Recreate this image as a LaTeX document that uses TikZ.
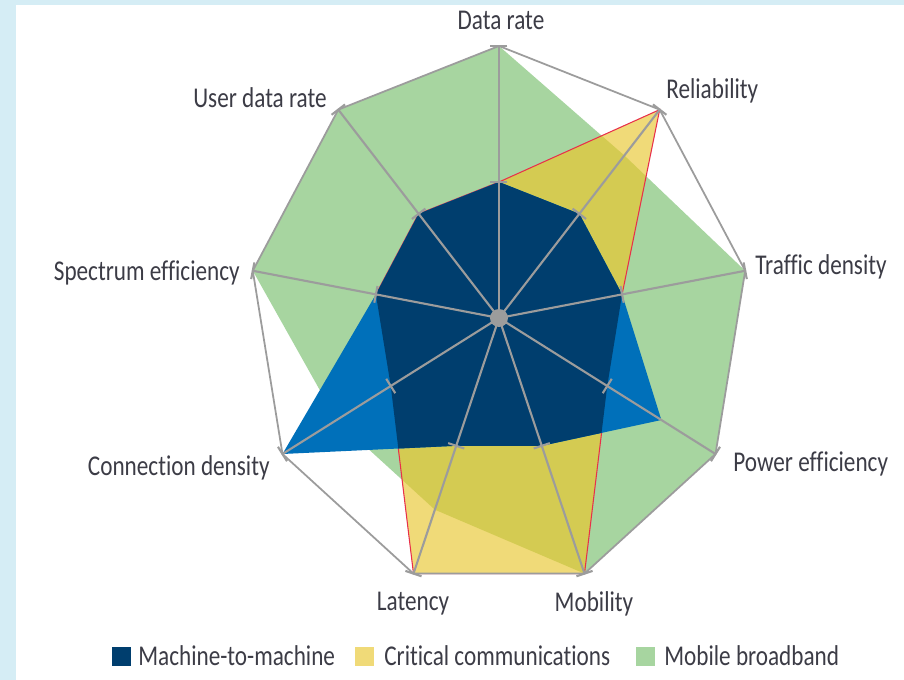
\documentclass[tikz,border=0pt]{standalone}
\usepackage{fontspec}
\setmainfont{Carlito}[FakeStretch=0.81,Ligatures=NoCommon]
\usetikzlibrary{calc}

\definecolor{bgblue}{HTML}{D5EDF5}
\definecolor{mbbgreen}{HTML}{A7D5A0}
\definecolor{crityellow}{HTML}{F0DA78}
\definecolor{overlapolive}{HTML}{D4CB52}
\definecolor{mtmblue}{HTML}{0070BA}
\definecolor{mtmnavy}{HTML}{003E6E}
\definecolor{axisgray}{HTML}{9C9C9C}
\definecolor{edgered}{HTML}{E8304A}
\definecolor{labelgray}{HTML}{3C3C46}

\tikzset{every picture/.style={x=0.02cm,y=0.02cm},
  axis/.style={draw=axisgray,line width=1.2pt},
  rim/.style={draw=axisgray,line width=1pt},
  lbl/.style={inner sep=0pt,text=labelgray,font=\fontsize{16.3}{19}\selectfont},
  keybox/.style={inner sep=0pt,minimum size=0.38cm}}

\begin{document}
\begin{tikzpicture}

          % frame
          \fill[bgblue] (-499,318) rectangle (405,-362);
          \fill[white] (-483,313) rectangle (405,-362);
          \useasboundingbox (-499,318) rectangle (405,-362);

          \coordinate (o) at (0,0);
          \foreach \i in {0,...,8}
            \coordinate (a\i) at ({90-40*\i}:250 and 272);

          % series values
          \foreach \v [count=\i from 0] in {1,0.78,1,1,1,0.75,0.75,1,1}
            \coordinate (g\i) at ($(o)!\v!(a\i)$);
          \foreach \v [count=\i from 0] in {0.5,1,0.5,0.5,1,1,0.5,0.5,0.5}
            \coordinate (c\i) at ($(o)!\v!(a\i)$);
          \foreach \v [count=\i from 0] in {0.5,0.5,0.5,0.75,0.5,0.5,1,0.5,0.5}
            \coordinate (m\i) at ($(o)!\v!(a\i)$);

          % mobile broadband
          \fill[mbbgreen] (g0)--(g1)--(g2)--(g3)--(g4)--(g5)--(g6)--(g7)--(g8)--cycle;
          % critical communications
          \fill[crityellow] (c0)--(c1)--(c2)--(c3)--(c4)--(c5)--(c6)--(c7)--(c8)--cycle;
          \begin{scope}
            \clip (g0)--(g1)--(g2)--(g3)--(g4)--(g5)--(g6)--(g7)--(g8)--cycle;
            \fill[overlapolive] (c0)--(c1)--(c2)--(c3)--(c4)--(c5)--(c6)--(c7)--(c8)--cycle;
          \end{scope}
          \draw[edgered,line width=0.6pt] (c0)--(c1)--(c2)--(c3)--(c4)--(c5)--(c6)--(c7)--(c8)--cycle;
          % machine-to-machine
          \fill[mtmblue] (m0)--(m1)--(m2)--(m3)--(m4)--(m5)--(m6)--(m7)--(m8)--cycle;
          \begin{scope}
            \clip (c0)--(c1)--(c2)--(c3)--(c4)--(c5)--(c6)--(c7)--(c8)--cycle;
            \fill[mtmnavy] (m0)--(m1)--(m2)--(m3)--(m4)--(m5)--(m6)--(m7)--(m8)--cycle;
          \end{scope}

          % axes and rim
          \draw[rim] (a0)--(a1)--(a2)--(a3)--(a4)--(a5)--(a6)--(a7)--(a8)--cycle;
          \foreach \i in {0,...,8} {
            \draw[axis] (o)--(a\i);
            \coordinate (h\i) at ($(o)!0.5!(a\i)$);
            \draw[axis] ($(h\i)!0.17cm!90:(o)$)--($(h\i)!0.17cm!-90:(o)$);
            \draw[axis] ($(a\i)!0.17cm!90:(o)$)--($(a\i)!0.17cm!-90:(o)$);
          }
          \fill[axisgray] (o) circle (0.18cm);

          % labels
          \node[lbl] (l0) at (2,298) {Data rate};
          \node[lbl,anchor=west] (l1) at (167,227) {Reliability};
          \node[lbl,anchor=west] (l2) at (256,51) {Traffic density};
          \node[lbl,anchor=west] (l3) at (234,-146) {Power efficiency};
          \node[lbl] (l4) at (95,-286) {Mobility};
          \node[lbl] (l5) at (-86,-286) {Latency};
          \node[lbl,anchor=east] (l6) at (-229,-150) {Connection density};
          \node[lbl,anchor=east] (l7) at (-259,45) {Spectrum efficiency};
          \node[lbl,anchor=east] (l8) at (-172,220) {User data rate};

          % legend
          \node[keybox,fill=mtmnavy] (k1) at (-377.5,-338) {};
          \node[lbl,anchor=west] (t1) at (-361,-338) {Machine-to-machine};
          \node[keybox,fill=crityellow] (k2) at (-134,-338) {};
          \node[lbl,anchor=west] (t2) at (-115,-338) {Critical communications};
          \node[keybox,fill=mbbgreen] (k3) at (147,-338) {};
          \node[lbl,anchor=west] (t3) at (165,-338) {Mobile broadband};

        \end{tikzpicture}
\end{document}
